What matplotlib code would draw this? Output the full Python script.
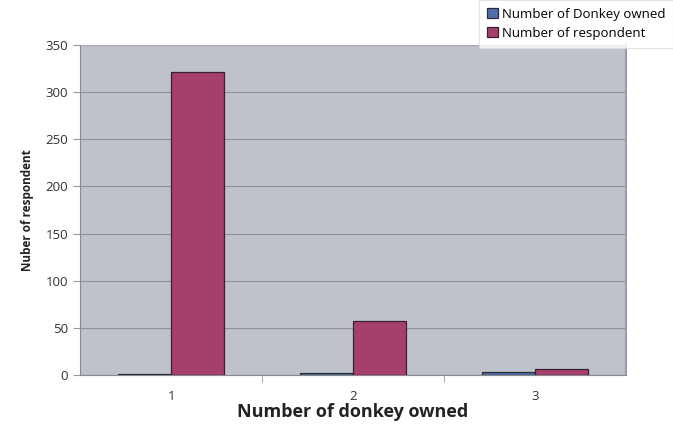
import matplotlib
matplotlib.use("Agg")
import matplotlib.pyplot as plt
import numpy as np

plt.rcParams['font.family'] = ['Open Sans', 'DejaVu Sans']

categories = ["1", "2", "3"]
donkey_owned = [1, 2, 3]
respondents = [321, 57, 6]

fig = plt.figure(figsize=(6.73, 4.30), dpi=100)
fig.patch.set_facecolor("white")
ax = fig.add_axes([0.119, 0.128, 0.811, 0.767])
ax.set_facecolor("#c0c2cb")

x = np.arange(len(categories))
w = 0.29
b1 = ax.bar(x - w / 2, donkey_owned, w, color="#4f6fa8", edgecolor="#2b2b3a",
            linewidth=0.9, label="Number of Donkey owned", zorder=3)
b2 = ax.bar(x + w / 2, respondents, w, color="#a63f6b", edgecolor="#3a2030",
            linewidth=0.9, label="Number of respondent", zorder=3)

ax.set_xlim(-0.5, 2.5)
ax.set_ylim(0, 350)
ax.set_yticks(np.arange(0, 351, 50))
ax.set_xticks(x)
ax.set_xticklabels(categories)
ax.set_xticks([0.5, 1.5], minor=True)
ax.tick_params(axis="x", which="major", length=0, pad=11, labelsize=9.5, labelcolor="#333333")
ax.tick_params(axis="x", which="minor", length=5, color="#999999", direction="out")
ax.tick_params(axis="y", length=5, color="#999999", labelsize=9.5, labelcolor="#333333")
ax.yaxis.grid(True, color="#8f9199", linewidth=0.8, zorder=0)

for side in ["left", "bottom"]:
    ax.spines[side].set_color("#8a8a8a")
ax.spines["top"].set_color("#a8aab2")
ax.spines["right"].set_color("#9a9ca4")
ax.spines["right"].set_linewidth(1.5)

ax.set_xlabel("Number of donkey owned", fontsize=13, fontweight="bold",
              color="#222222", labelpad=0)
ax.set_ylabel("Nuber of respondent", fontsize=8.5, fontweight="bold",
              color="#222222", labelpad=8)

leg = fig.legend(handles=[b1, b2], loc="upper right", bbox_to_anchor=(1.0, 1.0),
                 fontsize=9.5, frameon=True, fancybox=False, handlelength=0.8,
                 handleheight=0.8, handletextpad=0.3, borderpad=0.6,
                 labelspacing=0.45, borderaxespad=0.0)
leg.get_frame().set_edgecolor("#dddddd")
leg.get_frame().set_linewidth(0.8)

fig.savefig("out.png", dpi=100, facecolor="white")
